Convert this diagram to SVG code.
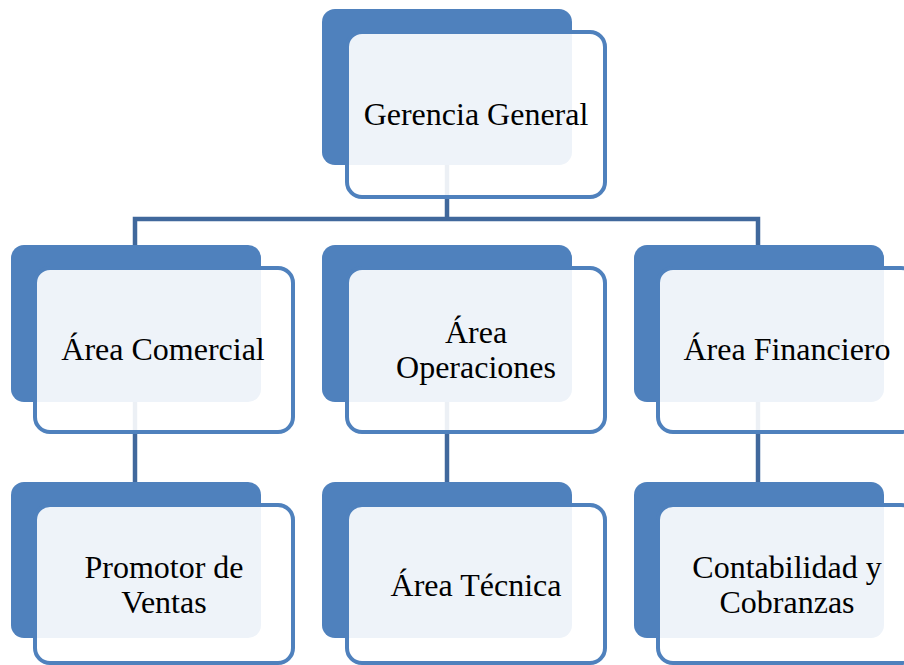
<svg xmlns="http://www.w3.org/2000/svg" width="904" height="665" viewBox="0 0 904 665">
<style>
.back{fill:#4f81bd}
.front{fill:#ffffff;fill-opacity:0.9;stroke:#4f81bd;stroke-width:4}
.conn{fill:none;stroke:#40689c;stroke-width:4.5}
</style>
<rect width="904" height="665" fill="#ffffff"/>
<g id="connectors">
<path class="conn" d="M447,165 V219 M135,245 V219 H758 V245"/>
<path class="conn" d="M135,402 V482"/>
<path class="conn" d="M447,402 V482"/>
<path class="conn" d="M758,402 V482"/>
</g>
<g id="gerencia">
<rect class="back" x="322" y="9" width="250" height="156" rx="13"/>
<rect class="front" x="347" y="32" width="258" height="165" rx="15"/>
<text x="476" y="125" font-family="Liberation Serif" font-size="32" text-anchor="middle">Gerencia General</text>
</g>
<g id="comercial">
<rect class="back" x="11" y="245" width="250" height="157" rx="13"/>
<rect class="front" x="35" y="268" width="258" height="164" rx="15"/>
<text x="163" y="360" font-family="Liberation Serif" font-size="32" text-anchor="middle">Área Comercial</text>
</g>
<g id="operaciones">
<rect class="back" x="322" y="245" width="250" height="157" rx="13"/>
<rect class="front" x="347" y="268" width="258" height="164" rx="15"/>
<text x="476" y="343" font-family="Liberation Serif" font-size="32" text-anchor="middle">Área</text>
<text x="476" y="378" font-family="Liberation Serif" font-size="32" text-anchor="middle">Operaciones</text>
</g>
<g id="financiero">
<rect class="back" x="634" y="245" width="250" height="157" rx="13"/>
<rect class="front" x="658" y="268" width="258" height="164" rx="15"/>
<text x="787" y="360" font-family="Liberation Serif" font-size="32" text-anchor="middle">Área Financiero</text>
</g>
<g id="promotor">
<rect class="back" x="11" y="482" width="250" height="156" rx="13"/>
<rect class="front" x="35" y="505" width="258" height="158" rx="15"/>
<text x="164" y="578" font-family="Liberation Serif" font-size="32" text-anchor="middle">Promotor de</text>
<text x="164" y="613" font-family="Liberation Serif" font-size="32" text-anchor="middle">Ventas</text>
</g>
<g id="tecnica">
<rect class="back" x="322" y="482" width="250" height="156" rx="13"/>
<rect class="front" x="347" y="505" width="258" height="158" rx="15"/>
<text x="476" y="596" font-family="Liberation Serif" font-size="32" text-anchor="middle">Área Técnica</text>
</g>
<g id="contabilidad">
<rect class="back" x="634" y="482" width="250" height="156" rx="13"/>
<rect class="front" x="658" y="505" width="258" height="158" rx="15"/>
<text x="787" y="578" font-family="Liberation Serif" font-size="32" text-anchor="middle">Contabilidad y</text>
<text x="787" y="613" font-family="Liberation Serif" font-size="32" text-anchor="middle">Cobranzas</text>
</g>
</svg>
